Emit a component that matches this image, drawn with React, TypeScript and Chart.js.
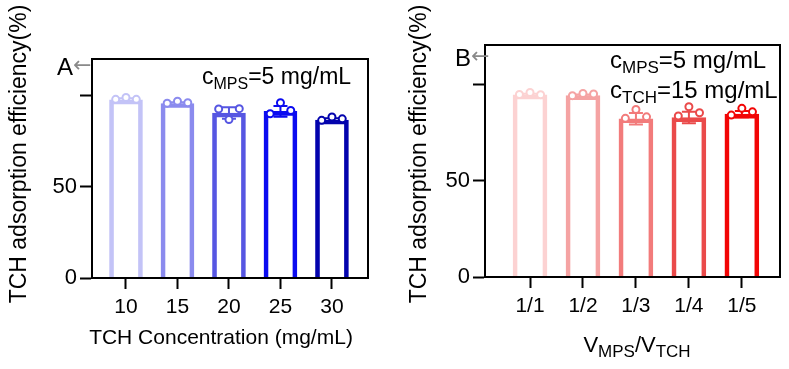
import React, { useEffect, useRef } from 'react';
import { Chart, registerables } from 'chart.js';
Chart.register(...registerables);

const FONT = "'Liberation Sans', Arial, Helvetica, sans-serif";

// ---------- Panel A data ----------
const categoriesA = ['10', '15', '20', '25', '30'];
const meansA = [97.6, 95.6, 90.4, 91.3, 86.6];
const sdA = [0.9, 0.7, 3.2, 3.0, 1.0];
const pointsA = [
  [97.9, 98.9, 97.9],
  [95.8, 96.9, 96.0],
  [92.6, 86.8, 92.8],
  [90.0, 96.0, 91.8],
  [86.4, 88.2, 87.2],
];
const colorsA = ['#c3c3f7', '#8b8bee', '#5656e2', '#0b0bf0', '#0303ad'];

// ---------- Panel B data ----------
const categoriesB = ['1/1', '1/2', '1/3', '1/4', '1/5'];
const meansB = [94.6, 94.2, 82.2, 82.8, 84.6];
const sdB = [0.6, 0.6, 3.0, 3.0, 1.6];
const pointsB = [
  [94.8, 95.8, 94.7],
  [94.2, 95.3, 95.1],
  [82.4, 87.0, 83.2],
  [83.6, 88.4, 85.3],
  [84.1, 87.6, 85.8],
];
const colorsB = ['#fcd2d2', '#f5a3a3', '#f27b7b', '#ea4a4a', '#f20505'];

// ---------- shared axis data ----------
const yTickValues = [0, 50, 100];
const yTickLabels = ['0', '50', ''];
const yTitle = 'TCH adsorption efficiency(%)';
const xTitleA = 'TCH Concentration (mg/mL)';
const jitter = [-0.2, 0, 0.2];

type Part = { t: string; sub?: boolean };

function drawRich(ctx: CanvasRenderingContext2D, x: number, y: number, parts: Part[], main: number, sub: number, subShift: number, align: 'left' | 'center') {
  ctx.save();
  ctx.textBaseline = 'alphabetic';
  ctx.textAlign = 'left';
  ctx.fillStyle = '#000';
  const widths = parts.map((p) => {
    ctx.font = `${p.sub ? sub : main}px ${FONT}`;
    return ctx.measureText(p.t).width;
  });
  const total = widths.reduce((a, b) => a + b, 0);
  let cx = align === 'center' ? x - total / 2 : x;
  parts.forEach((p, i) => {
    ctx.font = `${p.sub ? sub : main}px ${FONT}`;
    ctx.fillText(p.t, cx, p.sub ? y + subShift : y);
    cx += widths[i];
  });
  ctx.restore();
}

type PanelCfg = {
  width: number;
  left: number;
  categories: string[];
  means: number[];
  sd: number[];
  points: number[][];
  colors: string[];
  xMin: number;
  xMax: number;
  yMax: number;
  pad: { right: number; top: number };
  yAxisWidth: number;
  xAxisHeight: number;
  barThickness: number;
  decorate: (ctx: CanvasRenderingContext2D) => void;
};

function Panel({ cfg }: { cfg: PanelCfg }) {
  const ref = useRef<HTMLCanvasElement | null>(null);
  useEffect(() => {
    if (!ref.current) return;
    const pointData: { x: number; y: number }[] = [];
    const pointColors: string[] = [];
    cfg.points.forEach((pts, i) => {
      pts.forEach((v, j) => {
        pointData.push({ x: i + jitter[j], y: v });
        pointColors.push(cfg.colors[i]);
      });
    });
    const decor = {
      id: 'decor',
      beforeDatasetsDraw(chart: any) {
        const ctx = chart.ctx as CanvasRenderingContext2D;
        const xs = chart.scales.x;
        const ys = chart.scales.y;
        ctx.save();
        ctx.lineWidth = 2;
        cfg.means.forEach((m, i) => {
          const px = xs.getPixelForValue(i);
          const yTop = ys.getPixelForValue(m + cfg.sd[i]);
          const yBot = ys.getPixelForValue(m - cfg.sd[i]);
          const cap = 7;
          ctx.strokeStyle = cfg.colors[i];
          ctx.beginPath();
          ctx.moveTo(px, yTop);
          ctx.lineTo(px, yBot);
          ctx.moveTo(px - cap, yTop);
          ctx.lineTo(px + cap, yTop);
          ctx.moveTo(px - cap, yBot);
          ctx.lineTo(px + cap, yBot);
          ctx.stroke();
        });
        ctx.restore();
      },
      afterDraw(chart: any) {
        const ctx = chart.ctx as CanvasRenderingContext2D;
        const a = chart.chartArea;
        ctx.save();
        ctx.strokeStyle = '#000';
        ctx.lineWidth = 2;
        ctx.strokeRect(a.left, a.top, a.right - a.left, a.bottom - a.top);
        ctx.restore();
        cfg.decorate(ctx);
      },
    };
    const chart = new Chart(ref.current, {
      type: 'bar',
      data: {
        datasets: [
          {
            type: 'scatter',
            data: pointData,
            pointRadius: 3.5,
            pointBorderWidth: 2,
            pointBackgroundColor: '#ffffff',
            pointBorderColor: pointColors,
            order: 1,
          } as any,
          {
            type: 'bar',
            data: cfg.means.map((v, i) => ({ x: i, y: v })),
            backgroundColor: 'rgba(255,255,255,0)',
            borderColor: cfg.colors,
            borderWidth: 4,
            barThickness: cfg.barThickness,
            order: 2,
          } as any,
        ],
      },
      options: {
        responsive: false,
        animation: false,
        events: [],
        layout: { padding: { left: 0, right: cfg.pad.right, top: cfg.pad.top, bottom: 0 } },
        plugins: { legend: { display: false }, tooltip: { enabled: false } },
        scales: {
          x: {
            type: 'linear',
            min: cfg.xMin,
            max: cfg.xMax,
            offset: false,
            grid: {
              display: true,
              drawOnChartArea: false,
              drawTicks: true,
              tickLength: 11,
              tickWidth: 2,
              tickColor: '#000',
              offset: false,
              color: '#000',
            },
            border: { display: true, color: '#000', width: 2 },
            ticks: {
              font: { family: FONT, size: 21 },
              color: '#000',
              padding: 6,
              autoSkip: false,
              maxRotation: 0,
              callback: (_v: any, idx: number) => cfg.categories[idx] ?? '',
            },
            afterBuildTicks: (s: any) => {
              s.ticks = cfg.categories.map((_c, i) => ({ value: i }));
            },
            afterFit: (s: any) => {
              s.height = cfg.xAxisHeight;
            },
          } as any,
          y: {
            type: 'linear',
            min: 0,
            max: cfg.yMax,
            grid: {
              display: true,
              drawOnChartArea: false,
              drawTicks: true,
              tickLength: 12,
              tickWidth: 2,
              tickColor: '#000',
              color: '#000',
            },
            border: { display: true, color: '#000', width: 2 },
            ticks: {
              font: { family: FONT, size: 22 },
              color: '#000',
              padding: 3,
              callback: (_v: any, idx: number) => yTickLabels[idx] ?? '',
            },
            afterBuildTicks: (s: any) => {
              s.ticks = yTickValues.map((v) => ({ value: v }));
            },
            afterFit: (s: any) => {
              s.width = cfg.yAxisWidth;
            },
          } as any,
        },
      } as any,
      plugins: [decor],
    });
    return () => chart.destroy();
  }, [cfg]);
  return (
    <canvas
      ref={ref}
      width={cfg.width}
      height={369}
      style={{ position: 'absolute', left: cfg.left, top: 0 }}
    />
  );
}

function drawYTitle(ctx: CanvasRenderingContext2D, bx: number, cy: number) {
  ctx.save();
  ctx.translate(bx, cy);
  ctx.rotate(-Math.PI / 2);
  ctx.font = `23px ${FONT}`;
  ctx.fillStyle = '#000';
  ctx.textAlign = 'center';
  ctx.textBaseline = 'alphabetic';
  ctx.fillText(yTitle, 0, 0);
  ctx.restore();
}

function drawLetter(ctx: CanvasRenderingContext2D, letter: string, x: number, y: number) {
  ctx.save();
  ctx.font = `24px ${FONT}`;
  ctx.fillStyle = '#000';
  ctx.textAlign = 'left';
  ctx.textBaseline = 'alphabetic';
  ctx.fillText(letter, x, y);
  const w = ctx.measureText(letter).width;
  ctx.font = `22px 'DejaVu Sans', ${FONT}`;
  ctx.fillStyle = '#8a8a8a';
  ctx.fillText('\u2190', x + w, y - 3);
  ctx.restore();
}

const cfgA: PanelCfg = {
  width: 394,
  left: 0,
  categories: categoriesA,
  means: meansA,
  sd: sdA,
  points: pointsA,
  colors: colorsA,
  xMin: -0.66,
  xMax: 4.7,
  yMax: 120,
  pad: { right: 26, top: 59 },
  yAxisWidth: 92,
  xAxisHeight: 91,
  barThickness: 33,
  decorate: (ctx) => {
    drawYTitle(ctx, 26, 154);
    drawLetter(ctx, 'A', 57, 75);
    drawRich(ctx, 202, 84, [{ t: 'c' }, { t: 'MPS', sub: true }, { t: '=5 mg/mL' }], 23, 16, 5, 'left');
    drawRich(ctx, 221, 344, [{ t: xTitleA }], 21, 16, 0, 'center');
  },
};

const cfgB: PanelCfg = {
  width: 395,
  left: 394,
  categories: categoriesB,
  means: meansB,
  sd: sdB,
  points: pointsB,
  colors: colorsB,
  xMin: -0.85,
  xMax: 4.72,
  yMax: 120.5,
  pad: { right: 9, top: 45 },
  yAxisWidth: 91,
  xAxisHeight: 92,
  barThickness: 34,
  decorate: (ctx) => {
    drawYTitle(ctx, 32, 154);
    drawLetter(ctx, 'B', 61, 66);
    drawRich(ctx, 216, 68, [{ t: 'c' }, { t: 'MPS', sub: true }, { t: '=5 mg/mL' }], 24, 17, 5, 'left');
    drawRich(ctx, 216, 98, [{ t: 'c' }, { t: 'TCH', sub: true }, { t: '=15 mg/mL' }], 24, 17, 5, 'left');
    drawRich(
      ctx,
      243,
      352,
      [{ t: 'V' }, { t: 'MPS', sub: true }, { t: '/V' }, { t: 'TCH', sub: true }],
      22,
      17,
      5,
      'center'
    );
  },
};

export default function App() {
  return (
    <div style={{ position: 'fixed', left: 0, top: 0, width: 789, height: 369, background: '#fff', overflow: 'hidden' }}>
      <Panel cfg={cfgA} />
      <Panel cfg={cfgB} />
    </div>
  );
}
